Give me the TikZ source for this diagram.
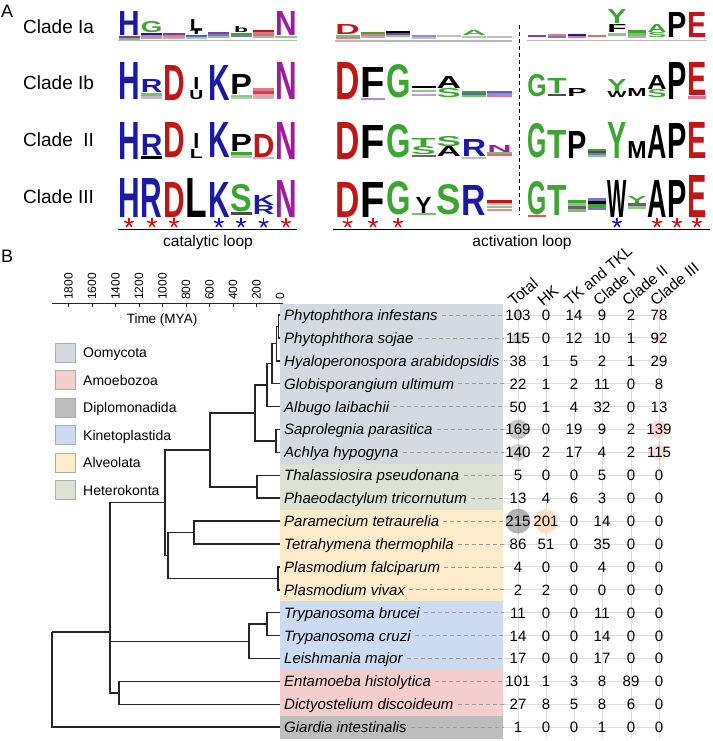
\documentclass[tikz,border=0pt]{standalone}
\usepackage{fontspec}
\setmainfont{Liberation Sans}
\usepackage{graphicx}
\definecolor{lgblue}{HTML}{1A1AA4}
\definecolor{lgred}{HTML}{C21515}
\definecolor{lggreen}{HTML}{3DA532}
\definecolor{lgmag}{HTML}{A01BA0}
\definecolor{lgpink}{HTML}{E07890}
\definecolor{lgpurple}{HTML}{8040A0}
\definecolor{strd}{HTML}{D01010}
\definecolor{stbl}{HTML}{1010C8}
\definecolor{cOom}{HTML}{D3DAE2}
\definecolor{cAmo}{HTML}{F4CDCD}
\definecolor{cDip}{HTML}{BDBDBD}
\definecolor{cKin}{HTML}{CCDBF1}
\definecolor{cAlv}{HTML}{FDEBCA}
\definecolor{cHet}{HTML}{DDE3D2}
\definecolor{treec}{HTML}{262626}
\definecolor{gridc}{HTML}{DCDCDC}
\definecolor{leadc}{HTML}{9A9A9A}
\newcounter{lgc}
% x0, cw, lw, col, bottom, height, color, letter
\newcommand\LGx[8]{\stepcounter{lgc}\node[lgl,text=#7] (lg\thelgc) at ({#1+#2*(#4-1)+(#2-#3)/2},#5) {\resizebox{#3pt}{#6pt}{\textbf{#8}}};}
\newcommand\LC[5]{\LGx{118}{22.4}{21.6}{#1}{#2}{#3}{#4}{#5}}
\newcommand\LL[5]{\LGx{335}{25.3}{24.4}{#1}{#2}{#3}{#4}{#5}}
\newcommand\LR[5]{\LGx{527}{20}{19.3}{#1}{#2}{#3}{#4}{#5}}
\newcommand\SX[6]{\fill[#6] ({#1+#2*(#3-1)+0.6},#4) rectangle ({#1+#2*#3-0.6},#5);}
\newcommand\SC[4]{\SX{118}{22.4}{#1}{#2}{#3}{#4}}
\newcommand\SL[4]{\SX{335}{25.3}{#1}{#2}{#3}{#4}}
\newcommand\SR[4]{\SX{527}{20}{#1}{#2}{#3}{#4}}
\newcommand\astk[3]{\foreach \a in {-90,-18,54,126,198}{\draw[#3,line width=1.5pt,line cap=round] (#1,#2) -- ++(\a:4.6);}}
\newcommand\SProw[8]{%
 \pgfmathsetmacro\yy{315+22.9*(#1-1)}%
 \pgfmathsetmacro\yb{\yy+5.4}%
 \draw[gridl] (504,\yy) -- (664,\yy);
 \node[sp] (s#1) at (284,\yb) {#2};
 \coordinate (l#1) at (280,\yy);
 \draw[lead] ([xshift=4pt]s#1.base east) ++(0,-5.4) -- (504,\yy);
 \node[num] (na#1) at (518,\yb) {#3};
 \node[num] (nb#1) at (546,\yb) {#4};
 \node[num] (nc#1) at (574,\yb) {#5};
 \node[num] (nd#1) at (602,\yb) {#6};
 \node[num] (ne#1) at (631,\yb) {#7};
 \node[num] (nf#1) at (659,\yb) {#8};
}
\tikzset{
 lgl/.style={inner sep=0pt,outer sep=0pt,anchor=south west},
 tree/.style={draw=treec,line width=1.5pt},
 sp/.style={anchor=base west,inner sep=0pt,font=\fontsize{15}{15}\selectfont\itshape},
 num/.style={anchor=base,inner sep=0pt,font=\fontsize{15}{15}\selectfont},
 hdr/.style={anchor=south west,inner sep=0pt,rotate=40,font=\fontsize{15.5}{15.5}\selectfont},
 lead/.style={draw=leadc,line width=0.8pt,dash pattern=on 4pt off 3pt},
 gridl/.style={draw=gridc,line width=0.9pt},
 legbox/.style={draw=gray!65,line width=0.6pt},
 legt/.style={anchor=base west,inner sep=0pt,font=\fontsize{14}{14}\selectfont},
 cl/.style={anchor=base west,inner sep=0pt,font=\fontsize{19}{19}\selectfont},
 lbl/.style={anchor=base,inner sep=0pt,font=\fontsize{15.5}{15.5}\selectfont},
 ticklab/.style={anchor=west,inner sep=0pt,rotate=90,font=\fontsize{12}{12}\selectfont},
}
\begin{document}
\begin{tikzpicture}[x=1pt,y=-1pt]
\useasboundingbox (0,0) rectangle (712,741);
% ---------------- Panel A ----------------
\node[anchor=base west,inner sep=0pt,font=\fontsize{18}{18}\selectfont] (labA) at (1,18) {A};
\node[cl] (cIa) at (23,33.8) {Clade Ia};
\node[cl] (cIb) at (23,89.8) {Clade Ib};
\node[cl] (cII) at (23,146.8) {Clade~~II};
\node[cl] (cIII) at (23,203.8) {Clade III};
% baselines row 1
\fill[gray!55] (118,39.6) rectangle (297,41);
\fill[gray!55] (335,40.2) rectangle (512,41.6);
\fill[gray!55] (527,39.6) rectangle (707,41);
% --- catalytic row 1
\LC{1}{36}{24}{lgblue}{H} \SC{1}{36}{38}{lgpurple} \SC{1}{38}{39.6}{lggreen!70}
\LC{2}{33}{11}{lggreen}{G} \SC{2}{33}{35}{lgblue} \SC{2}{35}{37}{lgpink} \SC{2}{37}{39}{gray!70}
\SC{3}{33}{35}{lgpurple} \SC{3}{35}{37}{lgpink} \SC{3}{37}{39}{lggreen!60}
\LGx{118}{22.4}{13}{4}{30.5}{11}{black}{L} \LGx{118}{22.4}{13}{4}{35}{4}{black}{T} \SC{4}{35}{37}{lgblue!70} \SC{4}{37}{39}{lggreen!50}
\SC{5}{32}{34}{lgpurple} \SC{5}{34}{36}{lgblue!60} \SC{5}{36}{38}{lggreen!60}
\LGx{118}{22.4}{14}{6}{33}{6}{black}{b} \SC{6}{33}{35}{lggreen} \SC{6}{35}{37}{lgblue!60}
\SC{7}{30}{32}{lgred} \SC{7}{32}{34}{lgpink} \SC{7}{34}{36}{lgred!60} \SC{7}{36}{38}{gray!60}
\LC{8}{36}{24}{lgmag}{N} \SC{8}{36}{38}{lggreen!60}
% --- catalytic row 2
\LC{1}{100}{37}{lgblue}{H}
\LC{2}{93}{13}{lgblue}{R} \SC{2}{93}{96}{lggreen!70} \SC{2}{96}{99}{gray!50}
\LC{3}{100}{35}{lgred}{D}
\LGx{118}{22.4}{6}{4}{90}{12}{black}{I}
\LGx{118}{22.4}{14}{4}{100}{9}{black}{U}
\LC{5}{100}{35}{lgblue}{K}
\LC{6}{95}{20}{black}{P} \SC{6}{95}{97}{lggreen!60} \SC{6}{97}{99}{gray!50}
\SC{7}{88}{91}{lgpink} \SC{7}{91}{94}{lgred!80} \SC{7}{94}{97}{lgpink!70} \SC{7}{97}{99}{gray!50}
\LC{8}{100}{37}{lgmag}{N}
% --- catalytic row 3
\LC{1}{159}{37}{lgblue}{H}
\LC{2}{156}{21}{lgblue}{R} \SC{2}{156}{158.5}{black}
\LC{3}{157}{35}{lgred}{D}
\LGx{118}{22.4}{6}{4}{149}{15}{black}{I}
\LGx{118}{22.4}{13}{4}{158}{9}{black}{L}
\LC{5}{157}{35}{lgblue}{K}
\LC{6}{152}{17}{black}{P} \SC{6}{152}{155}{lggreen} \SC{6}{155}{157.5}{gray!50}
\LC{7}{157}{23}{lgred}{D} \SC{7}{157}{159}{gray!50}
\LC{8}{159}{37}{lgmag}{N}
% --- catalytic row 4
\LC{1}{217}{39}{lgblue}{H}
\LC{2}{217}{39}{lgblue}{R}
\LC{3}{217}{35}{lgred}{D}
\LC{4}{217}{39}{black}{L}
\LC{5}{217}{35}{lgblue}{K}
\LC{6}{212}{27}{lggreen}{S} \SC{6}{212}{215}{black!70}
\LC{7}{205}{10}{lgblue}{K} \LC{7}{214}{9}{lgblue}{R}
\LC{8}{217}{37}{lgmag}{N}
% --- activation left row 1
\LL{1}{35}{10}{lgred}{D} \SL{1}{35}{37}{lggreen!70} \SL{1}{37}{39}{lgpink}
\SL{2}{32}{34}{lggreen} \SL{2}{34}{36}{lgpink} \SL{2}{36}{38}{gray!60}
\SL{3}{31}{33}{black} \SL{3}{33}{35}{lgpurple} \SL{3}{35}{37}{lggreen!60}
\SL{4}{35}{37}{lgblue!50} \SL{4}{37}{39}{gray!50}
\SL{5}{35}{37}{gray!50}
\LL{6}{36}{5}{lggreen}{A} \SL{6}{36}{38}{gray!50}
\SL{7}{36}{38}{gray!50}
% --- activation left row 2
\LL{1}{100}{37}{lgred}{D}
\LL{2}{98}{30}{black}{F} \SL{2}{98}{100}{lgpurple!60}
\LL{3}{98}{33}{lggreen}{G}
\SL{4}{86}{88.5}{black} \SL{4}{90}{92}{lggreen!60} \SL{4}{94}{96}{lgpurple!50}
\LL{5}{89}{12}{black}{A} \LL{5}{98}{9}{lggreen}{S}
\SL{6}{91}{93}{lggreen} \SL{6}{93}{95}{lgblue!70} \SL{6}{95}{97}{lggreen!70}
\SL{7}{91}{93}{lgblue!70} \SL{7}{93}{95}{lgblue!50} \SL{7}{95}{97}{lgpink}
% --- activation left row 3
\LL{1}{159}{37}{lgred}{D}
\LL{2}{158}{33}{black}{F}
\LL{3}{158}{33}{lggreen}{G}
\LL{4}{147}{9}{lggreen}{T} \LL{4}{155}{8}{lggreen}{S} \SL{4}{155}{157}{black!60}
\LL{5}{147}{10}{lggreen}{S} \LL{5}{157}{10}{black}{A}
\LL{6}{157}{17}{lgblue}{R} \SL{6}{157}{159}{gray!50}
\LL{7}{152}{7}{lgmag}{N} \SL{7}{152}{154}{lggreen!70} \SL{7}{154}{156}{lgred!60}
% --- activation left row 4
\LL{1}{217}{35}{lgred}{D}
\LL{2}{217}{35}{black}{F}
\LL{3}{215}{33}{lggreen}{G}
\LGx{335}{25.3}{16}{4}{213}{16}{black}{Y} \SL{4}{213}{215}{lggreen!70}
\LL{5}{215}{30}{lggreen}{S}
\LL{6}{215}{30}{lgblue}{R}
\SL{7}{200}{203}{lgred} \SL{7}{203}{205}{lgpink!60} \SL{7}{206}{208}{lggreen!60} \SL{7}{209}{211}{lgred!50}
% --- activation right row 1
\SR{1}{35}{37}{lgpurple} \SR{2}{34}{36}{lgpink} \SR{2}{36}{38}{lgblue!60}
\SR{3}{34}{36}{lgblue} \SR{3}{36}{38}{lgpink} \SR{4}{35}{37}{lgred!60}
\LR{5}{24}{14}{lggreen}{Y} \LR{5}{33}{8}{black}{F} \SR{5}{33}{36}{lggreen!60}
\SR{6}{30}{33}{lggreen} \SR{6}{33}{36}{lggreen!70} \SR{6}{36}{38}{gray!60}
\LR{7}{33}{8}{lggreen}{A} \LR{7}{38}{5}{lggreen}{S}
\LR{8}{38}{25}{black}{P}
\LR{9}{38}{25}{lgred}{E}
% --- activation right row 2
\LR{1}{97}{22}{lggreen}{G}
\LR{2}{94}{15}{lggreen}{T} \SR{2}{94}{96}{black!70}
\LR{3}{96}{8}{black}{P}
\LR{5}{92}{12}{lggreen}{Y} \LR{5}{98}{6}{black}{W}
\LR{6}{96}{8}{black}{M}
\LR{7}{90}{14}{black}{A} \LR{7}{98}{8}{lggreen}{S}
\LR{8}{100}{37}{black}{P}
\LR{9}{96}{33}{lgred}{E} \SR{9}{96}{99}{lgpink}
% --- activation right row 3
\LR{1}{158}{34}{lggreen}{G}
\LR{2}{158}{28}{lggreen}{T}
\LR{3}{158}{27}{black}{P}
\SR{4}{149}{151}{lggreen} \SR{4}{151}{153}{black!70} \SR{4}{153}{155}{lgblue!60} \SR{4}{155}{157}{lggreen!60}
\LR{5}{158}{36}{lggreen}{Y}
\LR{6}{158}{17}{black}{M}
\LR{7}{158}{33}{black}{A}
\LR{8}{158}{35}{black}{P}
\LR{9}{158}{36}{lgred}{E}
% --- activation right row 4
\LR{1}{215}{33}{lggreen}{G} \SR{1}{215}{217}{lgred!70}
\LR{2}{215}{30}{lggreen}{T}
\SR{3}{200}{203}{lggreen} \SR{3}{203}{206}{lggreen!60} \SR{3}{206}{209}{black!60} \SR{3}{209}{212}{lggreen!70}
\SR{4}{198}{201}{lgblue!60} \SR{4}{201}{204}{black} \SR{4}{204}{207}{lggreen} \SR{4}{207}{210}{lgblue!60}
\LR{5}{217}{37}{black}{W}
\LR{6}{203}{7}{lggreen}{Y} \SR{6}{203}{206}{black!60} \SR{6}{206}{209}{lggreen!60}
\LR{7}{217}{37}{black}{A}
\LR{8}{217}{37}{black}{P}
\LR{9}{217}{42}{lgred}{E}
% dashed separator
\draw[line width=1pt,dash pattern=on 4pt off 3pt] (519,25) -- (519,215);
% stars
\astk{129}{223}{strd} \astk{152}{223}{strd} \astk{174}{223}{strd}
\astk{218.8}{223}{stbl} \astk{241}{223}{stbl} \astk{263.6}{223}{stbl}
\astk{286}{223}{strd}
\astk{347.6}{223}{strd} \astk{373}{223}{strd} \astk{398}{223}{strd}
\astk{617}{223}{stbl}
\astk{657}{223}{strd} \astk{677}{223}{strd} \astk{697}{223}{strd}
% loop bars
\draw[line width=1.6pt] (118,229.5) -- (297,229.5);
\draw[line width=1.6pt] (333,229.5) -- (710,229.5);
\node[lbl] (catl) at (208,246) {catalytic loop};
\node[lbl] (actl) at (522,246) {activation loop};
% ---------------- Panel B ----------------
\node[anchor=base west,inner sep=0pt,font=\fontsize{18}{18}\selectfont] (labB) at (1,262) {B};
% time axis
\draw[treec,line width=1pt] (52,303) -- (283,303);
\foreach \t [count=\k from 0] in {0,200,400,600,800,1000,1200,1400,1600,1800}{
  \draw[treec,line width=0.8pt] ({280-23.5*\k},303) -- ({280-23.5*\k},307);
  \node[ticklab] (tk\k) at ({280-23.5*\k},300) {\t};
}
\node[anchor=base,inner sep=0pt,font=\fontsize{13.5}{13.5}\selectfont] (tlab) at (162,323) {Time (MYA)};
% legend
\foreach \c/\n [count=\k from 0] in {cOom/Oomycota,cAmo/Amoebozoa,cDip/Diplomonadida,cKin/Kinetoplastida,cAlv/Alveolata,cHet/Heterokonta}{
  \fill[\c,legbox] (55,{343+27.5*\k}) rectangle (75,{362+27.5*\k});
  \node[legt] (lg\k) at (83,{352.5+27.5*\k+5}) {\n};
}
% group backgrounds
\fill[cOom] (280,303.5) rectangle (503,463.9);
\fill[cHet] (280,463.9) rectangle (503,509.7);
\fill[cAlv] (280,509.7) rectangle (503,601.3);
\fill[cKin] (280,601.3) rectangle (503,670);
\fill[cAmo] (280,670) rectangle (503,715.8);
\fill[cDip] (280,715.8) rectangle (503,738.7);
% vertical grid
\foreach \x in {518,546,574,602,631,659}{\draw[gridl] (\x,303) -- (\x,738);}
% bubbles
\fill[gray,opacity=0.35] (518,315) circle (5);
\fill[gray,opacity=0.4] (518,337.9) circle (6);
\fill[gray,opacity=0.45] (518,429.5) circle (10);
\fill[gray,opacity=0.35] (518,452.4) circle (8.5);
\fill[gray,opacity=0.6] (518,521.1) circle (12.5);
\fill[orange!25] (546,521.1) circle (12);
\fill[red!30,opacity=0.5] (659,315) circle (4);
\fill[red!30,opacity=0.55] (659,337.9) circle (5);
\fill[red!25,opacity=0.6] (659,429.5) circle (9);
\fill[red!25,opacity=0.5] (659,452.4) circle (8);
% headers
\node[hdr] (h1) at (514,307) {Total};
\node[hdr] (h2) at (543,307) {HK};
\node[hdr] (h3) at (570,307) {TK and TKL};
\node[hdr] (h4) at (599,307) {Clade I};
\node[hdr] (h5) at (628,307) {Clade II};
\node[hdr] (h6) at (656,307) {Clade III};
% rows
\SProw{1}{Phytophthora infestans}{103}{0}{14}{9}{2}{78}
\SProw{2}{Phytophthora sojae}{115}{0}{12}{10}{1}{92}
\SProw{3}{Hyaloperonospora arabidopsidis}{38}{1}{5}{2}{1}{29}
\SProw{4}{Globisporangium ultimum}{22}{1}{2}{11}{0}{8}
\SProw{5}{Albugo laibachii}{50}{1}{4}{32}{0}{13}
\SProw{6}{Saprolegnia parasitica}{169}{0}{19}{9}{2}{139}
\SProw{7}{Achlya hypogyna}{140}{2}{17}{4}{2}{115}
\SProw{8}{Thalassiosira pseudonana}{5}{0}{0}{5}{0}{0}
\SProw{9}{Phaeodactylum tricornutum}{13}{4}{6}{3}{0}{0}
\SProw{10}{Paramecium tetraurelia}{215}{201}{0}{14}{0}{0}
\SProw{11}{Tetrahymena thermophila}{86}{51}{0}{35}{0}{0}
\SProw{12}{Plasmodium falciparum}{4}{0}{0}{4}{0}{0}
\SProw{13}{Plasmodium vivax}{2}{2}{0}{0}{0}{0}
\SProw{14}{Trypanosoma brucei}{11}{0}{0}{11}{0}{0}
\SProw{15}{Trypanosoma cruzi}{14}{0}{0}{14}{0}{0}
\SProw{16}{Leishmania major}{17}{0}{0}{17}{0}{0}
\SProw{17}{Entamoeba histolytica}{101}{1}{3}{8}{89}{0}
\SProw{18}{Dictyostelium discoideum}{27}{8}{5}{8}{6}{0}
\SProw{19}{Giardia intestinalis}{1}{0}{0}{1}{0}{0}
% tree
\coordinate (root) at (52,632);
\coordinate (big) at (110,632);
\coordinate (amo) at (119,692.85);
\coordinate (kin) at (249,641.4);
\coordinate (tbtc) at (267,624.15);
\coordinate (oha) at (165,502.7);
\coordinate (alv) at (168,555.45);
\coordinate (pt) at (194,532.55);
\coordinate (pfpv) at (278,578.35);
\coordinate (oh) at (210,449.9);
\coordinate (het) at (257,486.75);
\coordinate (oomy) at (255,413);
\coordinate (sa) at (276,440.95);
\coordinate (a5) at (267,385.1);
\coordinate (a4) at (272,363.6);
\coordinate (a3) at (276.5,343.6);
\coordinate (a2) at (278.5,326.45);
\draw[tree] (root) -- (big);
\draw[tree] (root) |- (l19);
\draw[tree] (big) |- (oha);
\draw[tree] (big) |- (kin);
\draw[tree] (big) |- (amo);
\draw[tree] (amo) |- (l17); \draw[tree] (amo) |- (l18);
\draw[tree] (kin) |- (tbtc); \draw[tree] (kin) |- (l16);
\draw[tree] (tbtc) |- (l14); \draw[tree] (tbtc) |- (l15);
\draw[tree] (oha) |- (oh); \draw[tree] (oha) |- (alv);
\draw[tree] (alv) |- (pt); \draw[tree] (alv) |- (pfpv);
\draw[tree] (pt) |- (l10); \draw[tree] (pt) |- (l11);
\draw[tree] (pfpv) |- (l12); \draw[tree] (pfpv) |- (l13);
\draw[tree] (oh) |- (oomy); \draw[tree] (oh) |- (het);
\draw[tree] (het) |- (l8); \draw[tree] (het) |- (l9);
\draw[tree] (oomy) |- (a5); \draw[tree] (oomy) |- (sa);
\draw[tree] (sa) |- (l6); \draw[tree] (sa) |- (l7);
\draw[tree] (a5) |- (a4); \draw[tree] (a5) |- (l5);
\draw[tree] (a4) |- (a3); \draw[tree] (a4) |- (l4);
\draw[tree] (a3) |- (a2); \draw[tree] (a3) |- (l3);
\draw[tree] (a2) |- (l1); \draw[tree] (a2) |- (l2);
\end{tikzpicture}
\end{document}
